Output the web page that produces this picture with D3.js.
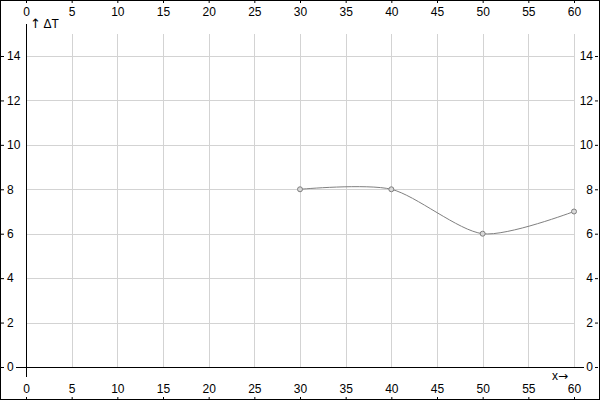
<!DOCTYPE html>
<html><head><meta charset="utf-8">
<script src="https://cdn.jsdelivr.net/npm/d3@7"></script>
<style>html,body{margin:0;padding:0;background:#fff}svg{display:block}text{font-family:"Liberation Sans",Arial,sans-serif;font-size:12px;fill:#000}</style>
</head><body><div id="chart"></div>
<script>
const xValues = [30, 40, 50, 60];
const yValues = [8, 8, 6, 7];
const xTicks = [0,5,10,15,20,25,30,35,40,45,50,55,60];
const yTicks = [0,2,4,6,8,10,12,14];
const yLabelParts = ["↑", " ΔT"];
const xLabelParts = ["x", "→"];

const W = 600, H = 400;
const svg = d3.select("#chart").append("svg").attr("width", W).attr("height", H);
const x = d3.scaleLinear().domain([0, 60]).range([26, 574]);
const y = d3.scaleLinear().domain([0, 14]).range([367, 56]);
const yTop = 34;

// grid
svg.append("g").selectAll("line").data(xTicks.filter(d => d > 0)).join("line")
  .attr("x1", d => Math.round(x(d)) + 0.5).attr("x2", d => Math.round(x(d)) + 0.5)
  .attr("y1", yTop).attr("y2", y(0)).attr("stroke", "#d3d3d3");
svg.append("g").selectAll("line").data(yTicks.filter(d => d > 0)).join("line")
  .attr("y1", d => Math.round(y(d)) + 0.5).attr("y2", d => Math.round(y(d)) + 0.5)
  .attr("x1", x(0)).attr("x2", x(60)).attr("stroke", "#d3d3d3");

// main axes
svg.append("line").attr("x1", 16).attr("x2", 584).attr("y1", Math.round(y(0)) + 0.5).attr("y2", Math.round(y(0)) + 0.5).attr("stroke", "#000");
svg.append("line").attr("x1", Math.round(x(0)) + 0.5).attr("x2", Math.round(x(0)) + 0.5).attr("y1", 24).attr("y2", 377).attr("stroke", "#000");

// border axes using d3 axes
const axTop = d3.axisBottom(x).tickValues(xTicks).tickSize(2).tickPadding(4);
const gTop = svg.append("g").attr("transform", "translate(0,1)").call(axTop);
const axBot = d3.axisTop(x).tickValues(xTicks).tickSize(2).tickPadding(4);
const gBot = svg.append("g").attr("transform", "translate(0,399)").call(axBot);
const axL = d3.axisRight(y).tickValues(yTicks).tickSize(3).tickPadding(3);
const gL = svg.append("g").attr("transform", "translate(1,0)").call(axL);
const axR = d3.axisLeft(y).tickValues(yTicks).tickSize(3).tickPadding(3);
const gR = svg.append("g").attr("transform", "translate(598,0)").call(axR);
[gTop, gBot, gL, gR].forEach(g => {
  g.select(".domain").remove();
  g.selectAll("text").attr("font-family", null).attr("font-size", null).attr("fill", "#000");
  g.selectAll("line").attr("stroke", "#000");
});
gL.selectAll("text").attr("x", 6);
gR.selectAll("text").attr("x", -5);

// border
svg.append("rect").attr("x", 0.5).attr("y", 0.5).attr("width", W - 1).attr("height", H - 1)
  .attr("fill", "none").attr("stroke", "#000");

// labels
const yl = svg.append("text").attr("x", 30).attr("y", 28);
yl.append("tspan").style("font-family", "DejaVu Sans").style("font-size", "13px").text(yLabelParts[0]);
yl.append("tspan").text(yLabelParts[1]);
const xl = svg.append("text").attr("x", 552).attr("y", 380);
xl.append("tspan").text(xLabelParts[0]);
xl.append("tspan").style("font-family", "DejaVu Sans").style("font-size", "12px").text(xLabelParts[1]);

// series
const pts = xValues.map((d, i) => [d, yValues[i]]);
const line = d3.line().x(d => x(d[0])).y(d => y(d[1])).curve(d3.curveCardinal.tension(0.2));
svg.append("path").attr("d", line(pts)).attr("fill", "none").attr("stroke", "#808080").attr("stroke-width", 1);
svg.append("g").selectAll("circle").data(pts).join("circle")
  .attr("cx", d => x(d[0])).attr("cy", d => y(d[1])).attr("r", 2.5)
  .attr("fill", "#d8d8d8").attr("stroke", "#808080");
</script></body></html>
